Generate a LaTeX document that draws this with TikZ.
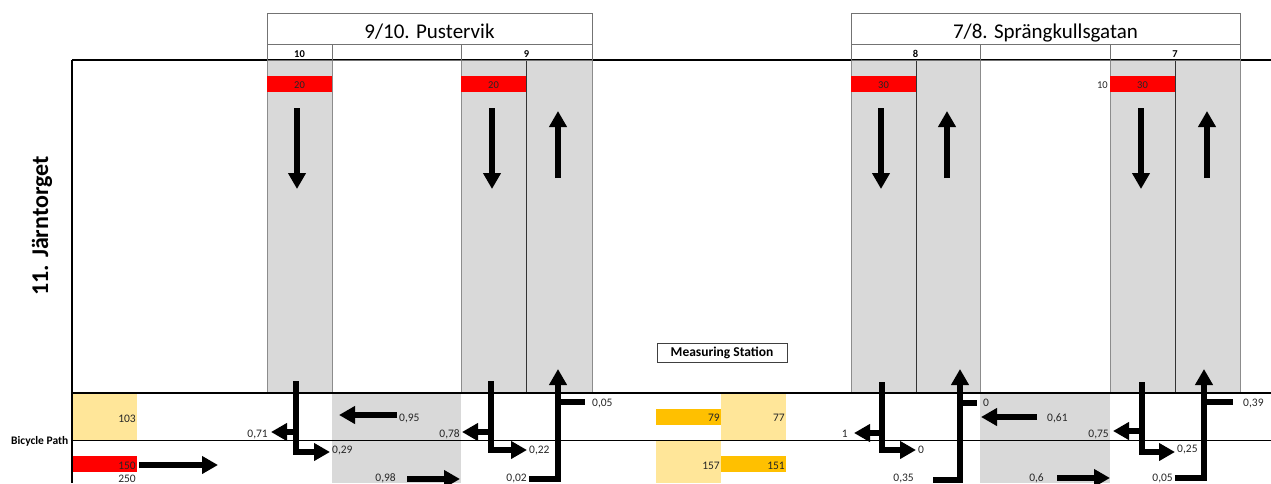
\documentclass[tikz,border=0pt]{standalone}
\usepackage{fontspec}
\setmainfont{Carlito}
\usetikzlibrary{arrows.meta}
\definecolor{lanegray}{HTML}{D9D9D9}
\definecolor{barred}{HTML}{FF0000}
\definecolor{barorange}{HTML}{FFC000}
\definecolor{paleyellow}{HTML}{FFE699}
\definecolor{txt}{HTML}{262626}
\begin{document}
\begin{tikzpicture}[x=1pt,y=-1pt,
  lane/.style={fill=lanegray, draw=black!45, line width=0.7pt},
  fat/.style={line width=6pt, line join=miter},
  fatarrow/.style={fat, -{Triangle[length=16pt,width=17pt]}},
  num/.style={font=\fontsize{11.5}{13}\selectfont, text=txt, inner sep=0pt},
  barnum/.style={font=\fontsize{10.5}{12}\selectfont, text=txt, inner sep=0pt, anchor=base},
  hdr/.style={draw=black!55, line width=0.8pt},
  subhdr/.style={font=\fontsize{10.5}{12}\selectfont\bfseries, inner sep=0pt, anchor=base},
  title/.style={font=\fontsize{21}{24}\selectfont, inner sep=0pt, anchor=base}]
\useasboundingbox (0,0) rectangle (1271,483);
\clip (0,0) rectangle (1271,483);
% lanes (top area)
\foreach \a/\b in {267/332,461/526,526/592,851/916,916/980,1110/1175,1175/1240}
  \draw[lane] (\a,60) rectangle (\b,393);
\foreach \a in {526,916,1175} \draw[black!80, line width=0.7pt] (\a,60) -- (\a,393);
% bottom shaded areas
\fill[lanegray] (332,393) rectangle (461,483);
\fill[lanegray] (980,393) rectangle (1110,483);
\fill[paleyellow] (72,393) rectangle (137,440);
\fill[paleyellow] (721,393) rectangle (786,440);
\fill[paleyellow] (656,440) rectangle (721,483);
\fill[barorange] (656,409) rectangle (721,425);
\fill[barorange] (721,456) rectangle (786,472);
\fill[barred] (72,456) rectangle (137,472);
% red bars top
\foreach \a/\b/\v in {267/332/20,461/526/20,851/916/30,1110/1175/30}{
  \fill[barred] (\a,76) rectangle (\b,92);
  \node[barnum] at ({(\a+\b)/2},88) {\v};
}
\node[barnum, anchor=base east] (ten) at (1108,88) {10};
% frame lines
\draw[line width=1.4pt] (72,60) -- (1271,60);
\draw[line width=1.2pt] (72,60) -- (72,483);
\draw[line width=1.2pt] (72,393) -- (1271,393);
\draw[line width=0.8pt] (72,440) -- (1271,440);
% headers
\draw[hdr] (267,13) rectangle (592,60);
\draw[hdr] (267,44) -- (592,44) (332,44) -- (332,60) (461,44) -- (461,60);
\node[title] (pust) at (429.5,38) {9/10. Pustervik};
\node[subhdr] (h10) at (299.5,57) {10};
\node[subhdr] (h9) at (526.5,57) {9};
\draw[hdr] (851,13) rectangle (1240,60);
\draw[hdr] (851,44) -- (1240,44) (980,44) -- (980,60) (1110,44) -- (1110,60);
\node[title] (spr) at (1045.5,38) {7/8. Sprängkullsgatan};
\node[subhdr] (h8) at (915.5,57) {8};
\node[subhdr] (h7) at (1175,57) {7};
% station and side labels
\node[draw=black!75, line width=0.8pt, minimum width=130pt, minimum height=19pt, inner sep=0pt,
  font=\fontsize{13.5}{15}\selectfont\bfseries] (ms) at (722,352.5) {Measuring Station};
\node[rotate=90, anchor=base, inner sep=0pt, font=\fontsize{24}{28}\selectfont\bfseries] (jt) at (48,226) {11. Järntorget};
\node[anchor=base west, inner sep=0pt, font=\fontsize{11.5}{13}\selectfont\bfseries] (bp) at (11,444) {Bicycle Path};
% top lane arrows
\foreach \x in {297,492,881,1141} \draw[fatarrow] (\x,108) -- (\x,189);
\foreach \x in {558,947,1207} \draw[fatarrow] (\x,178) -- (\x,111);
% bottom junction arrows (down lanes)
\draw[fatarrow] (296,381) -- (296,452) -- (330,452);
\draw[fatarrow] (296,432) -- (271,432);
\draw[fatarrow] (491,381) -- (491,450) -- (527,450);
\draw[fatarrow] (491,432) -- (462,432);
\draw[fatarrow] (882,382) -- (882,450) -- (916,450);
\draw[fatarrow] (882,433) -- (854,433);
\draw[fatarrow] (1142,382) -- (1142,452) -- (1175,452);
\draw[fatarrow] (1142,431) -- (1113,431);
% bottom junction arrows (up lanes)
\draw[fatarrow] (529,479) -- (558,479) -- (558,369);
\draw[fat] (558,402) -- (585,402);
\draw[fatarrow] (933,480) -- (960,480) -- (960,369);
\draw[fat] (960,403) -- (977,403);
\draw[fatarrow] (1175,478) -- (1204,478) -- (1204,369);
\draw[fat] (1204,402) -- (1233,402);
% straight flows
\draw[fatarrow] (139,465) -- (218,465);
\draw[fatarrow] (397,415) -- (339,415);
\draw[fatarrow] (407,479) -- (460,479);
\draw[fatarrow] (1037,417) -- (981,417);
\draw[fatarrow] (1057,478) -- (1110,478);
% numbers
\node[num, anchor=base east] (n103) at (136,422) {103};
\node[num, anchor=base east] (n150) at (136,469) {150};
\node[num, anchor=base east] (n250) at (136,482) {250};
\node[num, anchor=base east] (n79) at (720,421) {79};
\node[num, anchor=base east] (n77) at (785,421) {77};
\node[num, anchor=base east] (n157) at (720,469) {157};
\node[num, anchor=base east] (n151) at (785,469) {151};
\node[num, anchor=base east] (a071) at (268,437) {0,71};
\node[num, anchor=base west] (a029) at (332,453) {0,29};
\node[num, anchor=base west] (a095) at (399,421) {0,95};
\node[num, anchor=base east] (a078) at (460,437) {0,78};
\node[num, anchor=base west] (a022) at (529,453) {0,22};
\node[num, anchor=base west] (a005) at (592,406) {0,05};
\node[num, anchor=base east] (a002) at (527,481) {0,02};
\node[num, anchor=base east] (a098) at (396,481) {0,98};
\node[num, anchor=base east] (b1) at (848,437) {1};
\node[num, anchor=base west] (b0) at (918,453) {0};
\node[num, anchor=base east] (b035) at (914,481) {0,35};
\node[num, anchor=base west] (b0t) at (983,406) {0};
\node[num, anchor=base west] (b061) at (1047,421) {0,61};
\node[num, anchor=base east] (b06) at (1044,481) {0,6};
\node[num, anchor=base east] (c075) at (1109,437) {0,75};
\node[num, anchor=base west] (c025) at (1177,452) {0,25};
\node[num, anchor=base east] (c005) at (1173,481) {0,05};
\node[num, anchor=base west] (c039) at (1243,406) {0,39};
\end{tikzpicture}
\end{document}
